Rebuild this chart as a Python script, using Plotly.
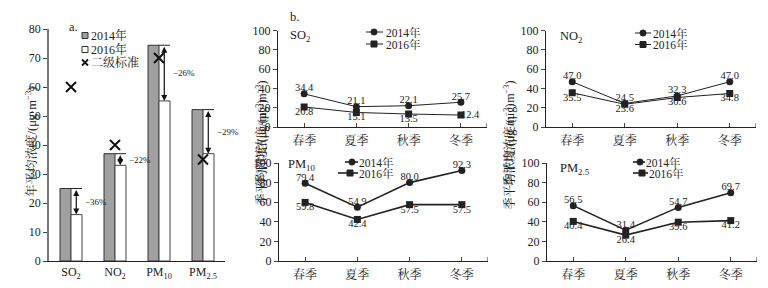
import plotly.graph_objects as go

# page body has an 8px margin, so the figure is 8px smaller than the window
OFF = 8
W, H = 768 - OFF, 288 - OFF
FONT = "Liberation Serif, 'Noto Serif CJK SC', 'Noto Sans CJK SC', serif"
INK = "#222222"

# ---- panel a data ----
pollutants = ["SO<sub>2</sub>", "NO<sub>2</sub>", "PM<sub>10</sub>", "PM<sub>2.5</sub>"]
annual_2014 = [25.0, 37.0, 74.4, 52.2]
annual_2016 = [16.0, 33.0, 55.2, 37.0]
standard = [60, 40, 70, 35]
change_labels = ["−36%", "−22%", "−26%", "−29%"]

# ---- panel b data ----
seasons = ["春季", "夏季", "秋季", "冬季"]
panel_names = ["SO<sub>2</sub>", "NO<sub>2</sub>", "PM<sub>10</sub>", "PM<sub>2.5</sub>"]
season_2014 = [
    [34.4, 21.1, 22.1, 25.7],
    [47.0, 24.5, 32.3, 47.0],
    [79.4, 54.9, 80.0, 92.3],
    [56.5, 31.4, 54.7, 69.7],
]
season_2016 = [
    [20.8, 15.1, 13.5, 12.4],
    [35.5, 23.6, 30.6, 34.8],
    [59.8, 42.4, 57.5, 57.5],
    [40.4, 26.4, 39.6, 41.2],
]
pos_2016 = [
    ["bottom center", "bottom center", "bottom center", "middle right"],
    ["bottom center"] * 4,
    ["bottom center"] * 4,
    ["bottom center"] * 4,
]
series_names = ["2014年", "2016年"]
standard_name = "二级标准"


def px(x):
    return (x - OFF) / W


def py(y):
    return 1 - (y - OFF) / H


fig = go.Figure()

xa = list(range(len(pollutants)))
fig.add_trace(go.Bar(x=xa, y=annual_2014, name=series_names[0],
                     marker=dict(color="#a0a0a0", line=dict(color="#333", width=1)),
                     xaxis="x", yaxis="y", showlegend=False))
fig.add_trace(go.Bar(x=xa, y=annual_2016, name=series_names[1],
                     marker=dict(color="white", line=dict(color="#444", width=1)),
                     xaxis="x", yaxis="y", showlegend=False))
fig.add_trace(go.Scatter(x=xa, y=standard, name=standard_name, mode="markers",
                         marker=dict(symbol="x-thin", size=10, line=dict(width=2, color="#111"), color="#111"),
                         xaxis="x", yaxis="y", showlegend=False))

shapes = []
annotations = []
for i, (a, b, lab) in enumerate(zip(annual_2014, annual_2016, change_labels)):
    shapes.append(dict(type="line", xref="x", yref="y", x0=i, x1=i + 0.25, y0=a, y1=a,
                       line=dict(color="#222", width=1)))
    annotations.append(dict(x=i + 0.12, y=b, ax=i + 0.12, ay=a, xref="x", yref="y", axref="x", ayref="y",
                            text="", showarrow=True, arrowhead=2, startarrowhead=2, arrowside="end+start",
                            arrowsize=1, arrowwidth=1.2, arrowcolor="#111", standoff=0, startstandoff=0))
    annotations.append(dict(x=i + 0.25, y=(a + b) / 2, xref="x", yref="y", text=lab, showarrow=False,
                            xanchor="left", xshift=1, font=dict(size=9, family=FONT, color=INK)))

# panel b
xb = list(range(len(seasons)))
for k in range(4):
    ax = k + 2
    xr, yr = f"x{ax}", f"y{ax}"
    lw = 1 if k < 2 else 1.6
    fig.add_trace(go.Scatter(x=xb, y=season_2014[k], name=series_names[0], mode="lines+markers",
                             line=dict(color=INK, width=lw), marker=dict(symbol="circle", size=7, color=INK),
                             xaxis=xr, yaxis=yr, showlegend=False))
    fig.add_trace(go.Scatter(x=xb, y=season_2016[k], name=series_names[1], mode="lines+markers",
                             line=dict(color=INK, width=lw), marker=dict(symbol="square", size=7, color=INK),
                             xaxis=xr, yaxis=yr, showlegend=False))
    fig.add_trace(go.Scatter(x=xb, y=season_2014[k], mode="text", text=[f"{v:.1f}" for v in season_2014[k]],
                             textposition="top center", textfont=dict(size=10.5, family=FONT, color=INK),
                             cliponaxis=False, showlegend=False, xaxis=xr, yaxis=yr, hoverinfo="skip"))
    fig.add_trace(go.Scatter(x=xb, y=season_2016[k], mode="text", text=[f"{v:.1f}" for v in season_2016[k]],
                             textposition=pos_2016[k], textfont=dict(size=10.5, family=FONT, color=INK),
                             cliponaxis=False, showlegend=False, xaxis=xr, yaxis=yr, hoverinfo="skip"))
    shapes.append(dict(type="line", xref=xr, yref=f"{yr} domain", x0=3.5, x1=3.5, y0=0, y1=0.04,
                       line=dict(color=INK, width=1)))

axis_common = dict(showgrid=False, zeroline=False, showline=True, linecolor=INK, linewidth=1, automargin=False,
                   tickfont=dict(family=FONT, size=12, color=INK))

layout = dict(
    width=W, height=H, margin=dict(l=0, r=0, t=0, b=0, pad=0, autoexpand=False),
    paper_bgcolor="white", plot_bgcolor="white", showlegend=False,
    font=dict(family=FONT, color=INK),
    barmode="group", bargap=0.5, bargroupgap=0,
    xaxis=dict(domain=[px(49), px(225)], range=[-0.5, 3.5], tickvals=xa, ticktext=pollutants,
               ticks="", **axis_common),
    yaxis=dict(domain=[py(261), py(29)], range=[0, 80], dtick=10, ticks="outside", ticklen=4,
               **{**axis_common, "linecolor": "#777", "linewidth": 1.5}),
)

xdoms = [[278, 487], [546, 756], [279, 488], [547, 757]]
ydoms = [[127, 30.7], [127, 30.7], [261, 163], [261, 163]]
for k in range(4):
    ax = k + 2
    layout[f"xaxis{ax}"] = dict(domain=[px(xdoms[k][0]), px(xdoms[k][1])], range=[-0.5, 3.5], tickvals=xb,
                                ticktext=seasons, ticks="inside", ticklen=4, ticklabelstandoff=3,
                                anchor=f"y{ax}", **axis_common)
    layout[f"yaxis{ax}"] = dict(domain=[py(ydoms[k][0]), py(ydoms[k][1])], range=[0, 100], dtick=20,
                                ticks="outside", ticklen=4, anchor=f"x{ax}", **axis_common)


# ---- key for panel a (drawn in page pixels) ----
def rect(cx, cy, s, fill, line):
    return dict(type="rect", xref="paper", yref="paper", x0=px(cx - s / 2), x1=px(cx + s / 2),
                y0=py(cy + s / 2), y1=py(cy - s / 2), fillcolor=fill, line=dict(color=line, width=1))


def label(x, y, text, size=11.5):
    return dict(x=px(x), y=py(y), xref="paper", yref="paper", text=text, xanchor="left", yanchor="middle",
                showarrow=False, borderpad=0, font=dict(size=size, family=FONT, color=INK))


shapes.append(rect(85, 35.5, 6, "#a0a0a0", "#333"))
shapes.append(rect(85, 49.5, 6, "white", "#333"))
for sgn in (1, -1):
    shapes.append(dict(type="line", xref="paper", yref="paper", x0=px(82), x1=px(88),
                       y0=py(62.5 - 3 * sgn), y1=py(62.5 + 3 * sgn), line=dict(color="#111", width=1.8)))
annotations += [label(90, 35.5, series_names[0], 12), label(90, 49.5, series_names[1], 12),
                label(90, 63, standard_name, 12)]

# ---- keys for panel b: (line x0, line x1, marker x, text x, y) ----
keys = [
    [(366, 383, 374, 385, 32), (366, 383, 374, 385, 44)],
    [(635, 651, 643, 652, 33), (635, 651, 643, 652, 44.5)],
    [(345, 358, 352, 358, 162), (338, 358, 350, 358, 173)],
    [(633, 645, 640, 645, 162), (633, 648, 642, 648, 173)],
]
for k in range(4):
    for j, (x0, x1, mx, tx, yy) in enumerate(keys[k]):
        lw = 1 if k < 2 else 1.6
        shapes.append(dict(type="line", xref="paper", yref="paper", x0=px(x0), x1=px(x1), y0=py(yy), y1=py(yy),
                           line=dict(color=INK, width=lw)))
        if j == 0:
            shapes.append(dict(type="circle", xref="paper", yref="paper", x0=px(mx - 3.2), x1=px(mx + 3.2),
                               y0=py(yy + 3.2), y1=py(yy - 3.2), fillcolor=INK, line=dict(color=INK, width=0.5)))
        else:
            shapes.append(rect(mx, yy, 6, INK, INK))
        annotations.append(label(tx, yy + 0.5, series_names[j]))

# titles & labels
annotations += [
    dict(x=px(21), y=py(142), xref="paper", yref="paper", text="年平均浓度/(μg·m<sup>−3</sup>)", textangle=-90,
         showarrow=False, font=dict(size=12.5, family=FONT, color=INK)),
    dict(x=px(68), y=py(19), xref="paper", yref="paper", text="a.", showarrow=False, borderpad=0,
         font=dict(size=12.5, family=FONT, color=INK)),
    dict(x=px(294), y=py(25), xref="paper", yref="paper", text="b.", showarrow=False, borderpad=0,
         yanchor="bottom", font=dict(size=12.5, family=FONT, color=INK)),
]
ytitle_pos = [(251, 79), (518, 79), (251, 208), (518, 212)]
name_top = [(289, 27), (559, 28), (287, 156), (559, 160)]
for k in range(4):
    annotations.append(dict(x=px(ytitle_pos[k][0]), y=py(ytitle_pos[k][1]), xref="paper", yref="paper",
                            text="季平均浓度/(μg·m<sup>−3</sup>)", textangle=-90, showarrow=False,
                            font=dict(size=12, family=FONT, color=INK)))
    annotations.append(dict(x=px(name_top[k][0]), y=py(name_top[k][1]), xref="paper", yref="paper",
                            text=panel_names[k], xanchor="left", yanchor="top", showarrow=False, borderpad=0,
                            font=dict(size=12.5, family=FONT, color=INK)))

layout["shapes"] = shapes
layout["annotations"] = annotations
fig.update_layout(**layout)
fig.write_html("out.html")
